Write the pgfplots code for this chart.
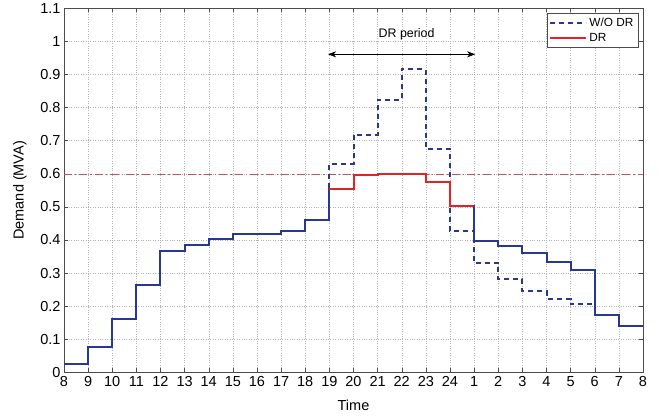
\documentclass[border=0pt]{standalone}
\usepackage{pgfplots}
\pgfplotsset{compat=1.18}
\usepackage{fontspec}
\setmainfont{Liberation Sans}
\usetikzlibrary{arrows.meta}
\definecolor{mblue}{RGB}{40,55,145}
\definecolor{mred}{RGB}{225,35,35}
\definecolor{lim}{RGB}{205,80,95}
\begin{document}
\begin{tikzpicture}
\path (0,0) rectangle (665pt,419pt);
\begin{axis}[
  at={(64pt,47pt)}, anchor=south west,
  width=579pt, height=364pt, scale only axis,
  xmin=0, xmax=24, ymin=0, ymax=1.1,
  xtick={0,1,2,3,4,5,6,7,8,9,10,11,12,13,14,15,16,17,18,19,20,21,22,23,24},
  xticklabels={8,9,10,11,12,13,14,15,16,17,18,19,20,21,22,23,24,1,2,3,4,5,6,7,8},
  ytick={0,0.1,0.2,0.3,0.4,0.5,0.6,0.7,0.8,0.9,1,1.1},
  yticklabels={0,0.1,0.2,0.3,0.4,0.5,0.6,0.7,0.8,0.9,1,1.1},
  tick align=inside, major tick length=4pt,
  tick style={black!70, thin},
  axis line style={black!70, thin},
  grid=major,
  grid style={dotted, gray!60, thin},
  ticklabel style={font=\fontsize{14.5}{16}\selectfont},
  xticklabel style={yshift=-1pt},
  /pgf/number format/assume math mode=true,
  xlabel={Time}, ylabel={Demand (MVA)},
  label style={font=\fontsize{14.5}{16}\selectfont},
  xlabel style={at={(axis description cs:0.5,-0.0907)}, anchor=center},
  ylabel style={at={(axis description cs:-0.0760,0.5)}, anchor=center},
  legend style={at={(0.9915,0.986)}, anchor=north east, font=\fontsize{11.8}{13}\selectfont,
    draw=black!70, thin, row sep=1pt, inner sep=2.5pt},
  legend cell align=left,
  legend image code/.code={\draw[#1] (0pt,0pt) -- (36pt,0pt);},
]
% threshold line
\addplot[lim, thin, dash pattern=on 8pt off 3pt on 1.5pt off 3pt, forget plot] coordinates {(0,0.6) (24,0.6)};
% W/O DR
\addplot[mblue, line width=2pt, dash pattern=on 5pt off 4pt, const plot mark left] coordinates {
(0,0.026) (1,0.078) (2,0.162) (3,0.264) (4,0.366) (5,0.385) (6,0.402) (7,0.418) (8,0.418) (9,0.426) (10,0.461)
(11,0.630) (12,0.718) (13,0.824) (14,0.916) (15,0.676) (16,0.428) (17,0.330) (18,0.281) (19,0.245) (20,0.223) (21,0.205)
(22,0.172) (23,0.139) (24,0.139)};
\addlegendentry{W/O DR}
% DR full (blue)
\addplot[mblue, line width=2pt, const plot mark left, forget plot] coordinates {
(0,0.026) (1,0.078) (2,0.162) (3,0.264) (4,0.366) (5,0.385) (6,0.402) (7,0.418) (8,0.418) (9,0.426) (10,0.461)
(11,0.553) (12,0.596) (13,0.600) (14,0.600) (15,0.574) (16,0.503) (17,0.398) (18,0.383) (19,0.360) (20,0.332) (21,0.310)
(22,0.172) (23,0.139) (24,0.139)};
% DR period (red)
\addplot[mred, line width=2pt, const plot mark left] coordinates {
(11,0.553) (12,0.596) (13,0.600) (14,0.600) (15,0.574) (16,0.503) (17,0.503)};
\addlegendentry{DR}
\draw[{Stealth[length=8pt,width=6pt]}-{Stealth[length=8pt,width=6pt]}, black, semithick] (axis cs:10.95,0.961) -- (axis cs:17.04,0.961);
\node[font=\fontsize{12.4}{14}\selectfont] at (axis cs:14.2,1.02) {DR period};
\end{axis}
\end{tikzpicture}
\end{document}
